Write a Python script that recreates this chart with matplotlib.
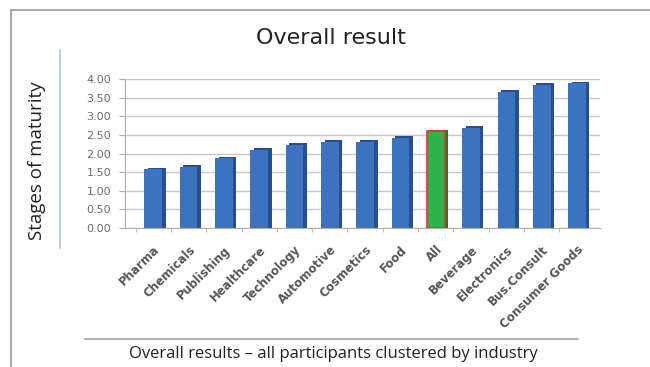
import numpy as np
import matplotlib
matplotlib.use("Agg")
from matplotlib import pyplot as plt
from matplotlib.lines import Line2D
from matplotlib.transforms import ScaledTranslation

industries = ["Pharma", "Chemicals", "Publishing", "Healthcare", "Technology",
              "Automotive", "Cosmetics", "Food", "All", "Beverage",
              "Electronics", "Bus.Consult", "Consumer Goods"]
maturity = [1.58, 1.65, 1.87, 2.10, 2.23, 2.31, 2.32, 2.42, 2.60, 2.69, 3.66, 3.84, 3.88]
y_ticks = [0.0, 0.5, 1.0, 1.5, 2.0, 2.5, 3.0, 3.5, 4.0]
highlight = "All"

W, H = 650, 367
fig = plt.figure(figsize=(W / 100, H / 100), dpi=100)
fig.patch.set_facecolor("white")

def fx(px):
    return px / W

def fy(py):
    return 1 - py / H

# page frame
fig.add_artist(Line2D([fx(11), fx(11)], [0, fy(10)], color="#9a9a9a", lw=1.2))
fig.add_artist(Line2D([fx(11), 1], [fy(10), fy(10)], color="#9a9a9a", lw=1.2))
# light blue rule next to y label
fig.add_artist(Line2D([fx(60), fx(60)], [fy(50), fy(248)], color="#a9cbe0", lw=1.2))
# caption rule
fig.add_artist(Line2D([fx(85), fx(578)], [fy(339), fy(339)], color="#a0a0a0", lw=1.2))

fig.text(fx(331), fy(38), "Overall result", ha="center", va="center",
         fontsize=16, family="DejaVu Sans", color="#222222")
fig.text(fx(37), fy(161), "Stages of maturity", ha="center", va="center",
         rotation=90, fontsize=13.5, family="Open Sans", color="#222222")
fig.text(fx(333), fy(354), "Overall results \u2013 all participants clustered by industry",
         ha="center", va="center", fontsize=12, family="Open Sans", color="#222222")

ax = fig.add_axes([fx(125), fy(228), fx(600) - fx(125), fy(79) - fy(228)])
x = np.arange(len(industries))
vals = np.array(maturity)

front = ["#2eb34a" if n == highlight else "#3d72c0" for n in industries]
side = ["#1d7a32" if n == highlight else "#274f8f" for n in industries]
edges = ["#e0392b" if n == highlight else "none" for n in industries]

# side/top shading for a 3D look
ax.bar(x + 0.1, vals + 0.04, width=0.5, color=side, zorder=2)
ax.bar(x, vals, width=0.5, color=front, edgecolor=edges, linewidth=1.2, zorder=3)

ax.set_xlim(-0.8, len(industries) - 0.35)
ax.set_ylim(0, 4.0)
ax.set_yticks(y_ticks)
ax.set_yticklabels([f"{v:.2f}" for v in y_ticks], fontsize=8, color="#6a6a6a")
ax.yaxis.grid(True, color="#c8c8c8", lw=1.0, zorder=0)
ax.set_axisbelow(True)

ax.set_xticks(x)
ax.set_xticklabels(industries, rotation=45, ha="right", rotation_mode="anchor",
                   fontsize=8.5, color="#555555", fontweight="bold")
shift = ScaledTranslation(-5 / 100, 0, fig.dpi_scale_trans)
for lbl in ax.get_xticklabels():
    lbl.set_transform(lbl.get_transform() + shift)
ax.set_xticks(x - 0.5, minor=True)
ax.tick_params(axis="x", which="major", length=0, pad=11)
ax.tick_params(axis="x", which="minor", length=3, color="#b0b0b0")
ax.tick_params(axis="y", length=4, color="#b0b0b0", pad=6)

for s in ["top", "right"]:
    ax.spines[s].set_visible(False)
ax.spines["left"].set_color("#b0b0b0")
ax.spines["bottom"].set_color("#b0b0b0")
ax.set_facecolor("white")

fig.savefig("out.png", dpi=100)
